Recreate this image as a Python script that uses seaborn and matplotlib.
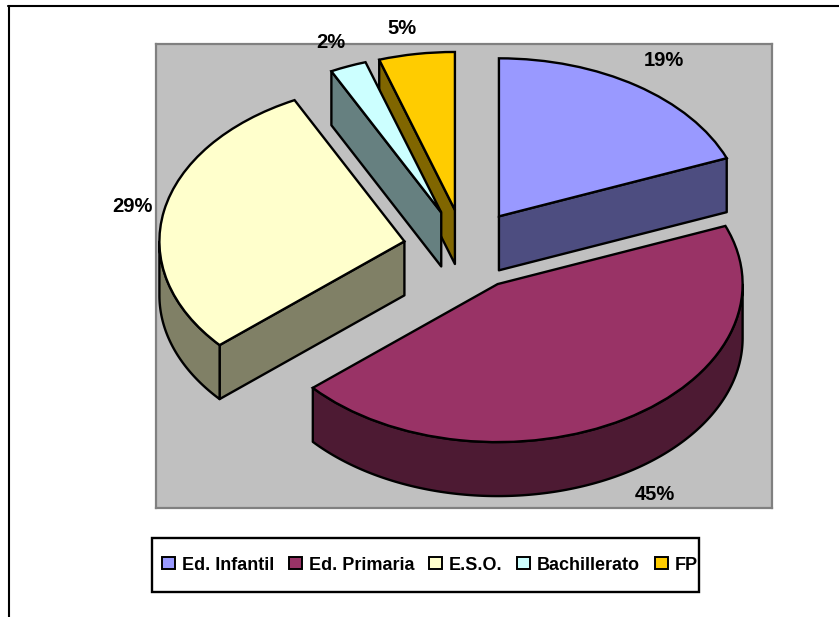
import numpy as np
import matplotlib
matplotlib.use('Agg')
import matplotlib.pyplot as plt
from matplotlib.colors import to_rgb
from matplotlib.lines import Line2D
from matplotlib.patches import Polygon, Rectangle
import seaborn as sns

categories = ['Ed. Infantil', 'Ed. Primaria', 'E.S.O.', 'Bachillerato', 'FP']
values = [19, 44.6, 29, 2.4, 5]
colors = ['#9999FF', '#993366', '#FFFFCC', '#CCFFFF', '#FFCC00']
explode = [0.25, 0.26, 0.25, 0.25, 0.25]

W, H = 839, 617
LW = 1.7
# px position of each percent label
label_px = [(664, 61), (655, 495), (132, 206), (331, 42), (402, 29)]
# back to front
draw_order = [4, 3, 2, 0, 1]

sns.set_theme(style='white')
plt.rcParams['font.family'] = ['Liberation Sans', 'DejaVu Sans']
plt.rcParams['text.color'] = 'black'

fig = plt.figure(figsize=(W / 100, H / 100), dpi=100)
ax = fig.add_axes([156 / W, 1 - 508 / H, (772 - 156) / W, (508 - 44) / H])

wedges, _ = ax.pie(values, colors=sns.color_palette(colors), explode=explode,
                   startangle=90, counterclock=False, frame=True,
                   wedgeprops={'edgecolor': 'black', 'linewidth': LW})

# pie centre at px (464.5, 249), ellipse radii 245 x 158 px
rx, ry = 245, 158
ax.set_aspect('auto')
ax.set_xlim((156 - 464.5) / rx, (772 - 464.5) / rx)
ax.set_ylim((249 - 508) / ry, (249 - 44) / ry)
ax.set_xticks([])
ax.set_yticks([])
ax.set_facecolor('#C0C0C0')
for s in ax.spines.values():
    s.set_color('#808080')
    s.set_linewidth(1.6)

depth = 54 / ry


def side(pts, color, z):
    pts = np.array(pts)
    low = pts[::-1] - [0, depth]
    ax.add_patch(Polygon(np.vstack([pts, low]), closed=True, facecolor=color,
                         edgecolor='black', linewidth=LW, zorder=z, joinstyle='round'))


# extrude every slice downward, then put its top face over it
for z, i in enumerate(draw_order):
    w = wedges[i]
    c = np.array(w.center)
    dark = np.array(to_rgb(colors[i])) * 0.5
    mid = np.deg2rad((w.theta1 + w.theta2) / 2)
    m = np.array([np.cos(mid), np.sin(mid)])
    base = z * 10 + 1
    for th in (w.theta1, w.theta2):
        e = np.array([np.cos(np.deg2rad(th)), np.sin(np.deg2rad(th))])
        n = np.array([-e[1], e[0]])
        if n @ m > 0:
            n = -n
        if n[1] < -1e-6:
            side([c, c + e * w.r], dark, base)
    t = np.deg2rad(np.linspace(w.theta1, w.theta2, 200))
    t = t[np.sin(t) < 0]
    if len(t) > 1:
        side(np.column_stack([c[0] + w.r * np.cos(t), c[1] + w.r * np.sin(t)]), dark, base + 1)
    w.set_zorder(base + 2)

for v, (px, py) in zip(values, label_px):
    fig.text(px / W, 1 - py / H, f'{v:.0f}%', ha='center', va='center',
             fontsize=14.5, fontweight='bold', color='black')

# outer frame of the original picture, open on right and bottom
fig.add_artist(Line2D([9 / W, 9 / W], [0, 1 - 6 / H], color='black', lw=1.5))
fig.add_artist(Line2D([8 / W, 1], [1 - 6 / H, 1 - 6 / H], color='black', lw=1.5))

# legend box, drawn apart so its padding can differ per side
fig.add_artist(Rectangle((152 / W, 1 - 592 / H), (699 - 152) / W, (592 - 538) / H,
                         transform=fig.transFigure, facecolor='white', edgecolor='black',
                         linewidth=1.7))
leg = fig.legend(wedges, categories, loc='center left', bbox_to_anchor=(162 / W, 1 - 565 / H),
                 ncol=5, frameon=False, prop={'size': 13, 'weight': 'bold'},
                 handlelength=0.72, handleheight=0.68, handletextpad=0.38,
                 columnspacing=0.82, borderpad=0, borderaxespad=0)
leg.set_zorder(5)
for h in leg.legend_handles:
    h.set_linewidth(1.4)

fig.savefig('out.png', dpi=100, facecolor='white')
